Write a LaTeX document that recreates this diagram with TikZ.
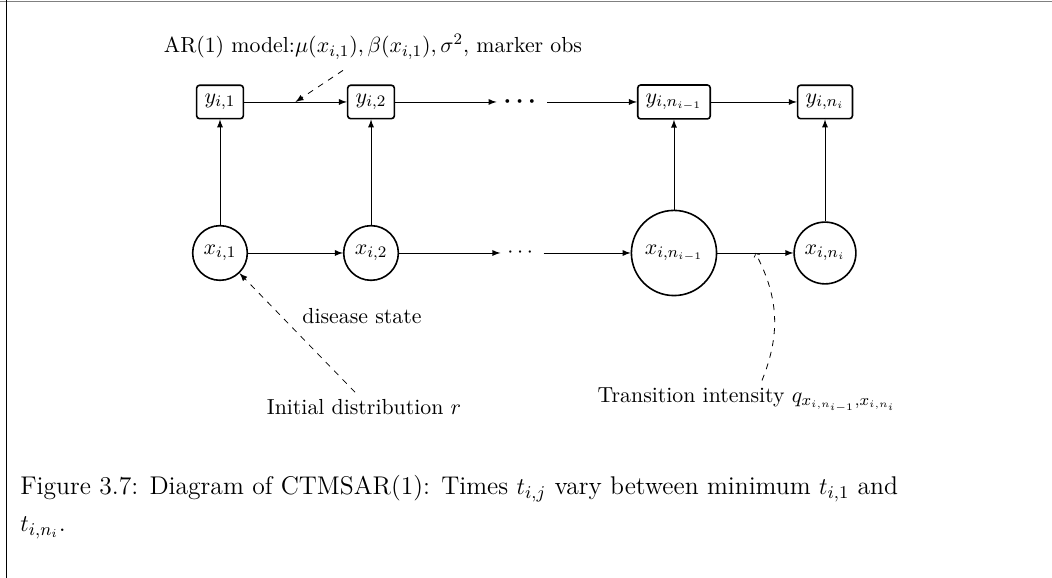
\documentclass[tikz,border=0pt]{standalone}
\usepackage{amsmath}
\usepackage{amssymb}
\usetikzlibrary{calc}

\tikzset{
    every node/.style={font=\fontsize{10.9}{13}\selectfont},
    state/.style={circle, draw, thick, inner sep=3.4pt},
    obsbox/.style={draw, thick, rounded corners=1.5pt, inner xsep=4pt, inner ysep=4.4pt},
    link/.style={-latex},
    note/.style={dashed, -latex},
}

\begin{document}
\begin{tikzpicture}
    \useasboundingbox (0,0) rectangle (18.487,10.157);
    % Page edges
    \draw[gray, line width=0.6pt] (0,10.13) -- (18.487,10.13);
    \draw[line width=0.6pt] (0.114,10.157) -- (0.114,0);
    % Hidden states
    \node[state] (x1) at (3.866,5.711) {$x_{i,1}$};
    \node[state] (x2) at (6.520,5.711) {$x_{i,2}$};
    \node (xdots) at (9.173,5.711) {$\cdots$};
    \node[state, inner sep=4.8pt] (xm) at (11.844,5.711) {$x_{i,n_{i-1}}$};
    \node[state] (xn) at (14.498,5.711) {$x_{i,n_i}$};
    % Marker observations
    \node[obsbox] (y1) at (3.866,8.365) {$y_{i,1}$};
    \node[obsbox] (y2) at (6.520,8.365) {$y_{i,2}$};
    \node[font=\fontsize{12.5}{15}\selectfont] (ydots) at (9.173,8.365) {$\boldsymbol{\cdots}$};
    \node[obsbox] (ym) at (11.844,8.365) {$y_{i,n_{i-1}}$};
    \node[obsbox] (yn) at (14.498,8.365) {$y_{i,n_i}$};
    % Chains
    \draw[link] (x1) -- (x2);
    \draw[link] (x2) -- (xdots);
    \draw[link] (xdots) -- (xm);
    \draw[link] (xm) -- (xn) coordinate[midway] (qmid);
    \draw[link] (y1) -- (y2) coordinate[midway] (armid);
    \draw[link] (y2) -- (ydots);
    \draw[link] (ydots) -- (ym);
    \draw[link] (ym) -- (yn);
    % Emissions
    \draw[link] (x1) -- (y1);
    \draw[link] (x2) -- (y2);
    \draw[link] (xm) -- (ym);
    \draw[link] (xn) -- (yn);
    % Annotations
    \node (ar) at (6.555,9.331) {AR(1) model:$\mu(x_{i,1}), \beta(x_{i,1}), \sigma^2$, marker obs};
    \draw[note] ([xshift=-15pt,yshift=-2pt]ar.south) -- (armid);
    \node (dis) at (6.361,4.604) {disease state};
    \node (init) at (6.397,3.005) {Initial distribution $r$};
    \draw[note] ([xshift=-4.5pt]init.north) -- (x1.-46);
    \node (trans) at (13.127,3.128) {Transition intensity $q_{x_{i,n_{i-1}},x_{i,n_i}}$};
    \draw[dashed, ->] ([xshift=7.5pt]trans.north) to[bend right=25] (qmid);
    % Caption
    \node[anchor=north west, inner sep=0pt, align=left, font=\fontsize{12.8}{15.5}\selectfont] (cap) at (0.351,1.81)
        {Figure 3.7: Diagram of CTMSAR(1): Times $t_{i,j}$ vary between minimum $t_{i,1}$ and\\[3pt]
        $t_{i,n_i}$.};
\end{tikzpicture}
\end{document}
